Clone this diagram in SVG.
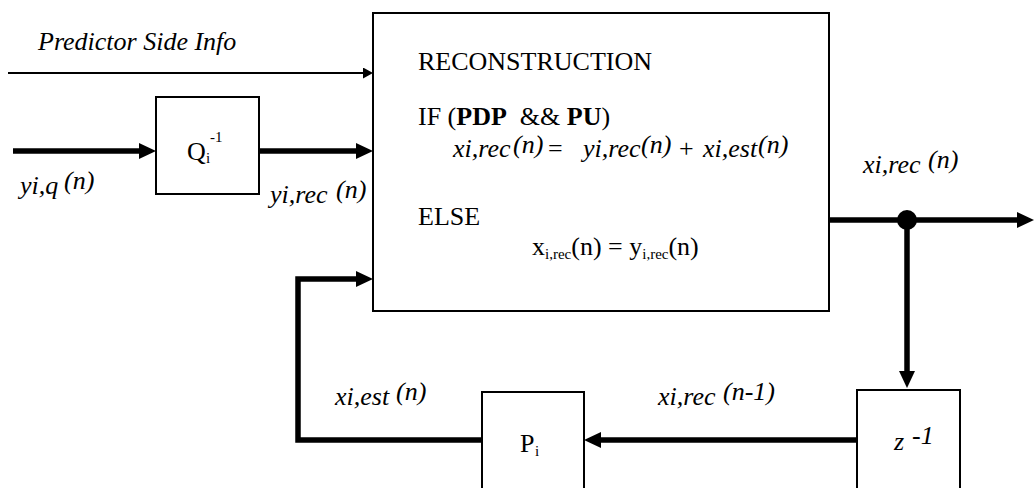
<svg xmlns="http://www.w3.org/2000/svg" width="1034" height="488" viewBox="0 0 1034 488">
<style>
.t{font-family:"Liberation Serif","Times New Roman",serif;font-size:26px;fill:#000;white-space:pre}
.i{font-style:italic}
.b{font-weight:bold}
.box{fill:#fff;stroke:#000;stroke-width:2}
.thick{fill:none;stroke:#000;stroke-width:5.5}
.thin{fill:none;stroke:#000;stroke-width:2}
</style>
<defs>
<marker id="ah" markerUnits="userSpaceOnUse" markerWidth="17" markerHeight="16" refX="5" refY="8" orient="auto">
<path d="M0,0 L17,8 L0,16 z" fill="#000"/>
</marker>
<marker id="ahs" markerUnits="userSpaceOnUse" markerWidth="10" markerHeight="11" refX="4" refY="5.5" orient="auto">
<path d="M0,0 L10,5.5 L0,11 z" fill="#000"/>
</marker>
</defs>
<rect width="1034" height="488" fill="#fff"/>

<g id="connectors">
<line class="thin" x1="8" y1="73" x2="367" y2="73" marker-end="url(#ahs)"/>
<line class="thick" x1="13" y1="151" x2="144" y2="151" marker-end="url(#ah)"/>
<line class="thick" x1="259" y1="151" x2="361" y2="151" marker-end="url(#ah)"/>
<line class="thick" x1="829" y1="220" x2="1022" y2="220" marker-end="url(#ah)"/>
<line class="thick" x1="907" y1="220" x2="907" y2="376" marker-end="url(#ah)"/>
<line class="thick" x1="857" y1="440" x2="596" y2="440" marker-end="url(#ah)"/>
<polyline class="thick" points="482,440 298,440 298,279 361,279" marker-end="url(#ah)"/>
<circle cx="907" cy="220" r="10" fill="#000"/>
</g>

<g id="recon">
<rect class="box" x="373" y="13" width="456" height="298"/>
<text class="t" x="418" y="70">RECONSTRUCTION</text>
<text class="t" x="418" y="125">IF (<tspan class="b">PDP</tspan>  &amp;&amp; <tspan class="b">PU</tspan>)</text>
<text class="t i"><tspan x="453" y="157">xi,rec</tspan><tspan x="513" y="153">(n)</tspan><tspan style="font-style:normal" x="548" y="157">=</tspan><tspan x="583" y="157">yi,rec</tspan><tspan x="641" y="153">(n)</tspan><tspan style="font-style:normal" x="679" y="157">+</tspan><tspan x="703" y="157">xi,est</tspan><tspan x="758" y="153">(n)</tspan></text>
<text class="t" x="418" y="225">ELSE</text>
<text class="t"><tspan x="532" y="255">x</tspan><tspan y="259" style="font-size:15px">i,rec</tspan><tspan y="255">(n) = y</tspan><tspan y="259" style="font-size:15px">i,rec</tspan><tspan y="255">(n)</tspan></text>
</g>

<g id="qinv">
<rect class="box" x="156" y="97" width="103" height="97"/>
<text class="t"><tspan x="187" y="160">Q</tspan><tspan x="206" y="163" style="font-size:15px">i</tspan><tspan x="210" y="142" style="font-size:15px">-1</tspan></text>
</g>

<g id="pred">
<rect class="box" x="482" y="392" width="102" height="100"/>
<text class="t"><tspan x="520" y="452">P</tspan><tspan x="535" y="456" style="font-size:15px">i</tspan></text>
</g>

<g id="delay">
<rect class="box" x="857" y="390" width="103" height="102"/>
<text class="t i"><tspan x="894" y="450">z</tspan><tspan x="912" y="444">-1</tspan></text>
</g>

<g id="labels">
<text class="t i" x="38" y="50">Predictor Side Info</text>
<text class="t i"><tspan x="20" y="194">yi,q</tspan><tspan x="64" y="189">(n)</tspan></text>
<text class="t i"><tspan x="270" y="203">yi,rec</tspan><tspan x="336" y="198">(n)</tspan></text>
<text class="t i"><tspan x="863" y="173">xi,rec</tspan><tspan x="928" y="168">(n)</tspan></text>
<text class="t i"><tspan x="335" y="405">xi,est</tspan><tspan x="396" y="400">(n)</tspan></text>
<text class="t i"><tspan x="658" y="405">xi,rec</tspan><tspan x="723" y="400">(n-1)</tspan></text>
</g>
</svg>
